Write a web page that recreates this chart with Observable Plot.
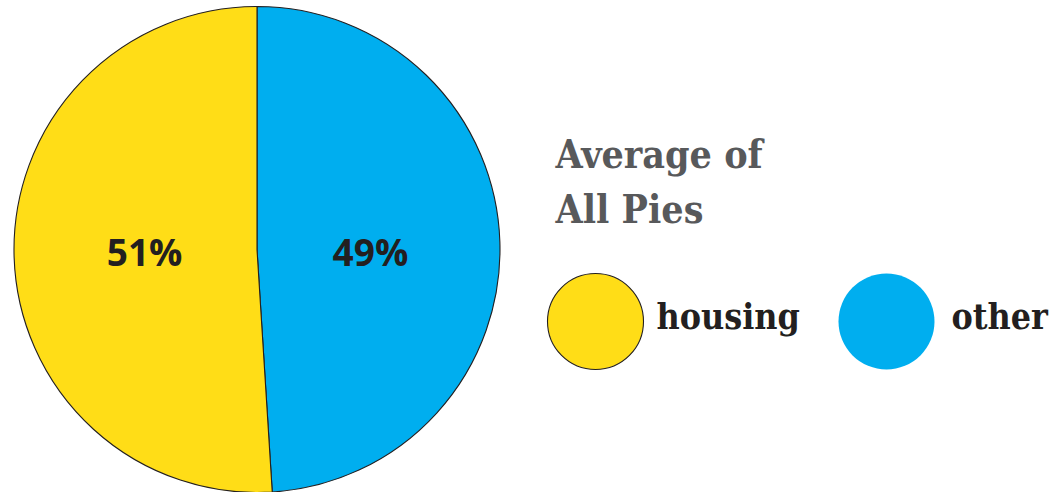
<!DOCTYPE html>
<html><head><meta charset="utf-8">
<script src="https://cdn.jsdelivr.net/npm/d3@7"></script>
<script src="https://cdn.jsdelivr.net/npm/@observablehq/plot@0.6"></script>
<style>
body{margin:0;background:#fff}
g[font-family="DejaVu Serif"]{font-stretch:condensed}
</style>
</head><body><div id="chart"></div>
<script>
// Data
const categories = ["other", "housing"];      // clockwise from 12 o'clock
const shares = [49, 51];
const colors = ["#00AEEF", "#FFDD17"];
const legendOrder = ["housing", "other"];
const titleLines = ["Average of", "All Pies"];

const slices = categories.map((c, i) => ({category: c, share: shares[i]}));
const pieLayout = d3.pie().sort(null).value(d => d.share)(slices);

const W = 1055, H = 492;
const cx = 257, cy = 249.5, R = 243;
const labelR = 113;
const ink = "#231F20";

function pieMark(index, scales) {
  const g = d3.create("svg:g");
  const x0 = scales.x(cx), y0 = scales.y(cy), r = scales.x(cx + R) - x0;
  const arc = d3.arc().innerRadius(0).outerRadius(r);
  g.selectAll("path").data(pieLayout).join("path")
    .attr("transform", `translate(${x0},${y0})`)
    .attr("d", arc)
    .attr("fill", d => scales.color(d.data.category))
    .attr("stroke", ink)
    .attr("stroke-width", 1.1)
    .attr("stroke-linejoin", "round");
  return g.node();
}

const pctSize = 37, titleSize = 39, legSize = 35.5;
const legendX = [595, 886], legendTextX = [656, 951];

const chart = Plot.plot({
  width: W, height: H, margin: 0,
  x: {domain: [0, W], range: [0, W], axis: null},
  y: {domain: [0, H], range: [0, H], axis: null},
  color: {domain: categories, range: colors},
  marks: [
    pieMark,
    Plot.text(pieLayout, {
      x: d => cx + Math.sin((d.startAngle + d.endAngle) / 2) * labelR,
      y: () => 265 - 0.32 * pctSize,
      text: d => `${d.data.share}%`,
      fontFamily: "Open Sans", fontWeight: 700, fontSize: pctSize, fill: ink
    }),
    Plot.text(titleLines, {
      x: 555, y: (d, i) => 167 + i * 55 - 0.32 * titleSize, text: d => d,
      textAnchor: "start", fontFamily: "DejaVu Serif", fontWeight: 700,
      fontSize: titleSize, fill: "#58595B"
    }),
    Plot.dot(legendOrder.filter(d => d === "housing"), {
      x: (d) => legendX[legendOrder.indexOf(d)], y: 321, r: 48, fill: d => d,
      stroke: ink, strokeWidth: 1.1
    }),
    Plot.dot(legendOrder.filter(d => d !== "housing"), {
      x: (d) => legendX[legendOrder.indexOf(d)], y: 321, r: 48, fill: d => d
    }),
    Plot.text(legendOrder, {
      x: (d, i) => legendTextX[i], y: 328 - 0.32 * legSize, text: d => d,
      textAnchor: "start", fontFamily: "DejaVu Serif", fontWeight: 700,
      fontSize: legSize, fill: ink
    })
  ]
});
document.getElementById("chart").appendChild(chart);
</script>
</body></html>
